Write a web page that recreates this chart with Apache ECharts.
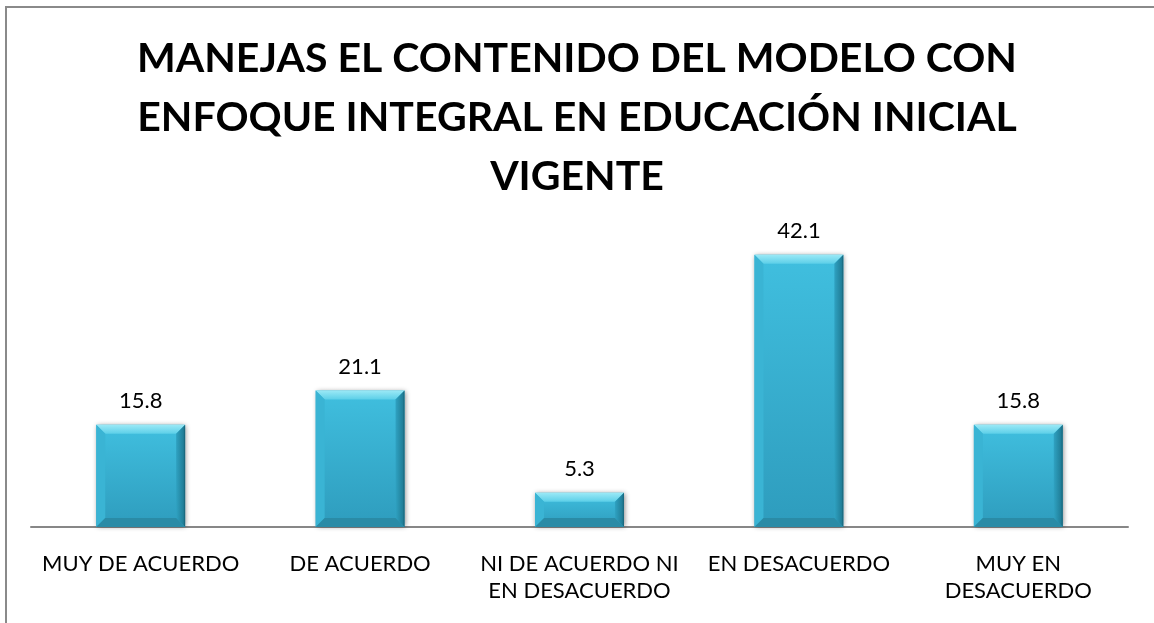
<!DOCTYPE html>
<html>
<head>
<meta charset="utf-8">
<script src="https://cdn.jsdelivr.net/npm/echarts@6/dist/echarts.min.js"></script>
<style>
  html, body { margin: 0; padding: 0; background: #fff; }
  #chart { width: 1154px; height: 623px; }
</style>
</head>
<body>
<div id="chart"></div>
<script>
const titleText = "MANEJAS EL CONTENIDO DEL MODELO CON\nENFOQUE INTEGRAL EN EDUCACIÓN INICIAL\nVIGENTE";
const categories = [
  "MUY DE ACUERDO",
  "DE ACUERDO",
  "NI DE ACUERDO NI\nEN DESACUERDO",
  "EN DESACUERDO",
  "MUY EN\nDESACUERDO"
];
const values = [15.8, 21.1, 5.3, 42.1, 15.8];

const font = "Lato, 'Liberation Sans', sans-serif";

// bevelled excel-like bar
function renderBar(params, api) {
  const idx = api.value(0);
  const v = api.value(1);
  const topPt = api.coord([idx, v]);
  const basePt = api.coord([idx, 0]);
  const w = api.size([1, 0])[0] * 0.405;
  const l = topPt[0] - w / 2, r = topPt[0] + w / 2;
  const t = topPt[1], b = basePt[1];
  const bv = Math.min(9, (b - t) / 3);
  return {
    type: 'group',
    children: [
      {
        type: 'rect',
        shape: { x: l, y: t, width: w, height: b - t },
        style: {
          fill: new echarts.graphic.LinearGradient(0, 0, 0, 1, [
            { offset: 0, color: '#40bfdf' },
            { offset: 1, color: '#2e9cbd' }
          ]),
          shadowBlur: 5,
          shadowColor: 'rgba(0,0,0,0.45)',
          shadowOffsetX: 1
        }
      },
      {
        type: 'polygon',
        shape: { points: [[l, t], [r, t], [r - bv, t + bv], [l + bv, t + bv]] },
        style: {
          fill: new echarts.graphic.LinearGradient(0, 0, 0, 1, [
            { offset: 0, color: '#9be9f6' },
            { offset: 1, color: '#5ccfe8' }
          ])
        }
      },
      {
        type: 'polygon',
        shape: { points: [[l, t], [l + bv, t + bv], [l + bv, b - bv], [l, b]] },
        style: { fill: '#3ab4d4' }
      },
      {
        type: 'polygon',
        shape: { points: [[r, t], [r, b], [r - bv, b - bv], [r - bv, t + bv]] },
        style: {
          fill: new echarts.graphic.LinearGradient(0, 0, 1, 0, [
            { offset: 0, color: '#2fa2c2' },
            { offset: 0.8, color: '#217f99' },
            { offset: 1, color: '#155f73' }
          ])
        }
      },
      {
        type: 'polygon',
        shape: { points: [[l, b], [r, b], [r - bv, b - bv], [l + bv, b - bv]] },
        style: { fill: '#2a8ba6' }
      },
      {
        type: 'text',
        style: {
          text: String(v),
          x: topPt[0],
          y: t - 13,
          align: 'center',
          verticalAlign: 'bottom',
          fontFamily: font,
          fontSize: 22,
          fill: '#000'
        }
      }
    ]
  };
}

const chart = echarts.init(document.getElementById('chart'));
chart.setOption({
  backgroundColor: '#fff',
  animation: false,
  title: {
    text: titleText,
    left: 'center',
    top: 29,
    padding: [0, 0, 0, 14],
    textStyle: {
      fontFamily: font,
      fontWeight: 'bold',
      fontSize: 41,
      lineHeight: 59,
      color: '#000'
    }
  },
  graphic: [{
    type: 'rect',
    shape: { x: 6, y: 7, width: 1300, height: 800 },
    style: { fill: 'none', stroke: '#8a8a8a', lineWidth: 2 },
    silent: true
  }],
  grid: { left: 31, right: 26, top: 236, bottom: 96 },
  xAxis: {
    type: 'category',
    data: categories,
    axisTick: { show: false },
    axisLine: { lineStyle: { color: '#878787', width: 2 } },
    axisLabel: {
      interval: 0,
      margin: 23,
      fontFamily: font,
      fontSize: 22,
      lineHeight: 27,
      color: '#000'
    }
  },
  yAxis: {
    type: 'value',
    min: 0,
    max: 45,
    show: false,
    splitLine: { show: false }
  },
  series: [{
    type: 'custom',
    data: values.map((v, i) => [i, v]),
    encode: { x: 0, y: 1 },
    renderItem: renderBar,
    z: 3
  }]
});
</script>
</body>
</html>
